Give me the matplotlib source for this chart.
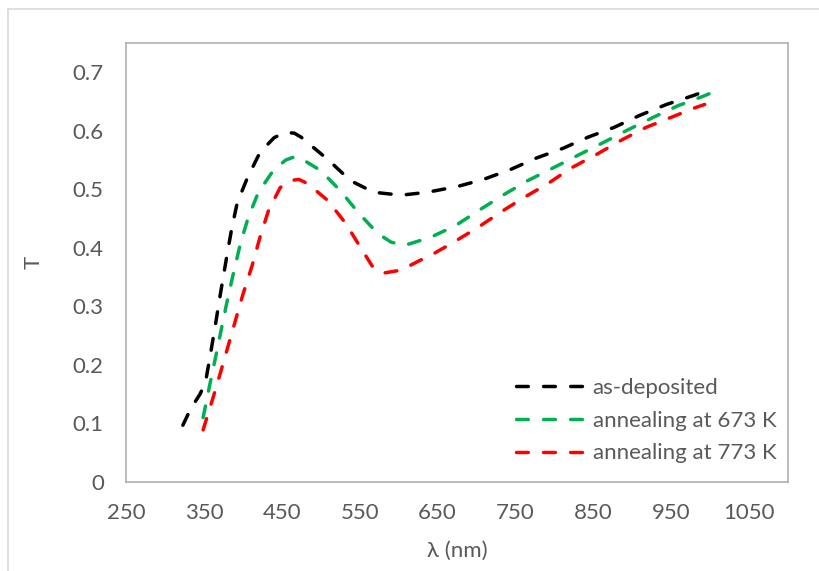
import matplotlib.pyplot as plt
from matplotlib.lines import Line2D

# === DATA ===
wl_dep = [323, 333, 345, 352, 358, 365, 371, 380, 386, 393, 406, 422, 440, 450, 457, 466, 475, 483,
          510, 538, 568, 603, 637, 676, 709, 744, 776, 811, 843, 877, 909, 944, 978, 990]
t_dep = [0.097, 0.125, 0.150, 0.170, 0.215, 0.27, 0.32, 0.39, 0.435, 0.478, 0.52, 0.563, 0.588,
         0.595, 0.597, 0.596, 0.589, 0.58, 0.55, 0.515, 0.495, 0.49, 0.495, 0.505, 0.517, 0.534,
         0.553, 0.57, 0.589, 0.606, 0.626, 0.645, 0.66, 0.666]

wl_673 = [349, 358, 365, 373, 381, 388, 397, 407, 420, 439, 455, 467, 478, 500, 525, 549,
          573, 590, 607, 641, 673, 703, 734, 766, 799, 830, 860, 892, 927, 959, 993, 1000]
t_673 = [0.11, 0.169, 0.213, 0.265, 0.316, 0.357, 0.408, 0.452, 0.495, 0.532, 0.55, 0.556,
         0.55, 0.532, 0.498, 0.459, 0.425, 0.41, 0.404, 0.418, 0.438, 0.464, 0.49, 0.515, 0.537,
         0.558, 0.578, 0.6, 0.623, 0.643, 0.66, 0.664]

wl_773 = [349, 362, 372, 386, 400, 412, 422, 433, 448, 461, 472, 483, 509, 532, 551, 568,
          581, 603, 628, 641, 671, 702, 731, 761, 792, 821, 856, 886, 918, 950, 982, 993]
t_773 = [0.089, 0.145, 0.19, 0.255, 0.32, 0.37, 0.418, 0.464, 0.503, 0.515, 0.517, 0.51,
         0.481, 0.442, 0.401, 0.365, 0.357, 0.362, 0.379, 0.387, 0.41, 0.435, 0.461, 0.486,
         0.51, 0.536, 0.561, 0.584, 0.606, 0.623, 0.64, 0.645]

labels = ["as-deposited", "annealing at 673 K", "annealing at 773 K"]
colors = ["#000000", "#00B050", "#FF0000"]
x_ticks = [250, 350, 450, 550, 650, 750, 850, 950, 1050]
y_ticks = [0, 0.1, 0.2, 0.3, 0.4, 0.5, 0.6, 0.7]

TEXT = "#595959"
FS = 16
plt.rcParams['font.family'] = ['Lato', 'DejaVu Sans']

fig = plt.figure(figsize=(8.2, 5.71), dpi=100)
ax = fig.add_axes([126 / 820, 89 / 571, 662 / 820, 439 / 571])

# chart outer border (only top and left visible in the crop)
fig.add_artist(Line2D([8 / 820, 8 / 820], [0, 1 - 9 / 571], color="#D9D9D9", lw=1.2,
                      transform=fig.transFigure))
fig.add_artist(Line2D([8 / 820, 1], [1 - 9 / 571, 1 - 9 / 571], color="#D9D9D9", lw=1.2,
                      transform=fig.transFigure))

dash = (0, (3.4, 4.4))
for wl, t, lab, c in zip([wl_dep, wl_673, wl_773], [t_dep, t_673, t_773], labels, colors):
    ax.plot(wl, t, color=c, lw=2.5, linestyle=dash, dash_capstyle="round",
            solid_joinstyle="round", label=lab)

ax.set_xlim(250, 1100)
ax.set_ylim(0, 0.75)
ax.set_xticks(x_ticks)
ax.set_yticks(y_ticks)
ax.set_yticklabels(["0"] + [f"{v:.1f}" for v in y_ticks[1:]])
ax.tick_params(length=0, labelsize=FS, labelcolor=TEXT)
ax.tick_params(axis="x", pad=15)
ax.tick_params(axis="y", pad=16)
for s in ax.spines.values():
    s.set_color("#B0B0B0")
    s.set_linewidth(1.2)

ax.set_xlabel("λ (nm)", fontsize=FS, color=TEXT)
ax.xaxis.set_label_coords(0.5, -0.135)
ax.set_ylabel("T", fontsize=FS, color=TEXT)
ax.yaxis.set_label_coords(-0.125, 0.5)

ax.legend(loc="upper left", bbox_to_anchor=(390 / 662, 104 / 439), frameon=False,
          fontsize=FS, labelcolor=TEXT, handlelength=3.15, handletextpad=0.3,
          labelspacing=0.57, borderaxespad=0, borderpad=0)

plt.savefig("out.png", dpi=100)
